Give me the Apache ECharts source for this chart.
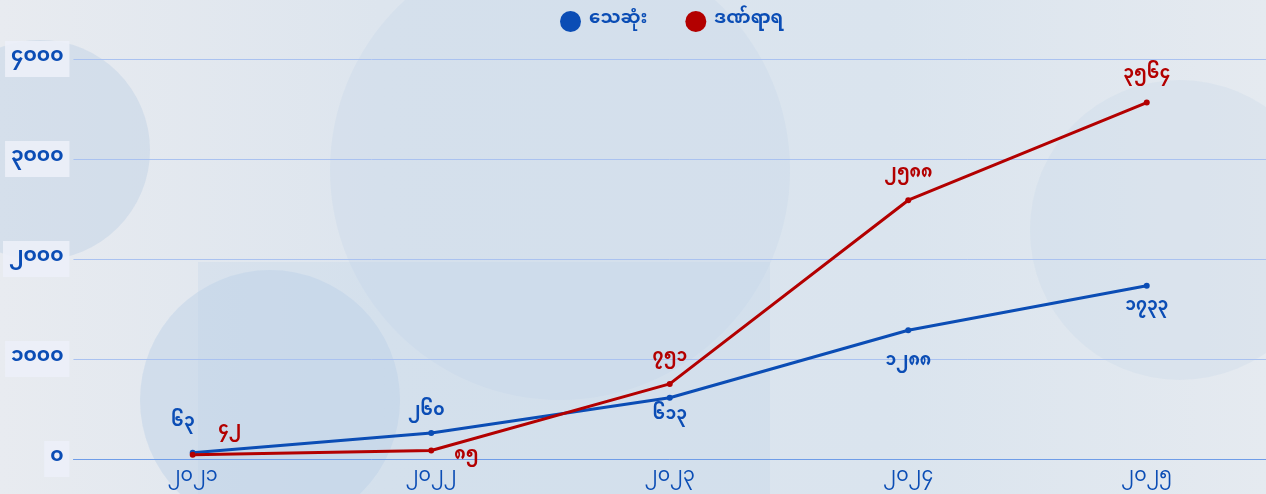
<!DOCTYPE html>
<html>
<head>
<meta charset="utf-8">
<script src="https://cdn.jsdelivr.net/npm/echarts@6/dist/echarts.min.js"></script>
<style>
html,body{margin:0;padding:0;}
#chart{width:1266px;height:494px;}
</style>
</head>
<body>
<div id="chart"></div>
<script>
var years = ['2021', '2022', '2023', '2024', '2025'];
var deaths = [63, 260, 613, 1288, 1733];
var injured = [42, 85, 751, 2588, 3564];
var yTicks = [0, 1000, 2000, 3000, 4000];

// label placement per point: [position, dx, dy]
var deathLabelPos = [['top', -10, -12], ['top', -5, -3], ['bottom', 0, 3], ['bottom', 0, 16], ['bottom', 0, 6]];
var injuredLabelPos = [['top', 37, -6], ['right', 15, 7], ['top', 0, -8], ['top', 0, -9], ['top', 0, -10]];

var myDigits = ['၀','၁','၂','၃','၄','၅','၆','၇','၈','၉'];
function toMy(v) {
    return String(v).replace(/[0-9]/g, function (d) { return myDigits[+d]; });
}

var FONT = "'Noto Sans Myanmar', 'Padauk', 'Myanmar Text', 'Noto Sans', sans-serif";
var BLUE = '#0b4db5';
var RED = '#b30000';

function buildData(vals, pos, color) {
    return vals.map(function (v, i) {
        return {
            value: v,
            label: {
                position: pos[i][0],
                offset: [pos[i][1], pos[i][2]],
                color: color
            }
        };
    });
}

var chart = echarts.init(document.getElementById('chart'));

var option = {
    backgroundColor: new echarts.graphic.LinearGradient(0, 0, 1, 0, [
        {offset: 0, color: '#e8ebf0'},
        {offset: 0.3, color: '#dde5ee'},
        {offset: 0.7, color: '#dae4ee'},
        {offset: 1, color: '#e5eaf0'}
    ]),
    graphic: [
        {type: 'circle', shape: {cx: 40, cy: 150, r: 110}, style: {fill: 'rgba(185,205,228,0.4)'}, silent: true, z: -10},
        {type: 'circle', shape: {cx: 270, cy: 400, r: 130}, style: {fill: 'rgba(175,200,228,0.35)'}, silent: true, z: -10},
        {type: 'circle', shape: {cx: 560, cy: 170, r: 230}, style: {fill: 'rgba(195,212,232,0.3)'}, silent: true, z: -10},
        {type: 'circle', shape: {cx: 1180, cy: 230, r: 150}, style: {fill: 'rgba(200,215,232,0.3)'}, silent: true, z: -10},
        {type: 'rect', shape: {x: 198, y: 262, width: 572, height: 232}, style: {fill: 'rgba(190,212,235,0.28)'}, silent: true, z: -10}
    ],
    legend: {
        top: 6,
        left: 555,
        itemGap: 38,
        icon: 'circle',
        itemWidth: 21,
        itemHeight: 21,
        textStyle: {
            color: BLUE,
            fontSize: 18,
            fontWeight: 'bold',
            fontFamily: FONT,
            padding: [0, 0, 0, 3]
        },
        data: ['သေဆုံး', 'ဒဏ်ရာရ']
    },
    grid: {
        left: 72,
        right: 0,
        top: 59,
        bottom: 35
    },
    xAxis: {
        type: 'category',
        data: years,
        axisLine: {lineStyle: {color: '#6f9de8', width: 1, opacity: 1}},
        axisTick: {show: false},
        axisLabel: {
            color: BLUE,
            fontSize: 19,
            fontFamily: FONT,
            margin: 10,
            formatter: toMy
        }
    },
    yAxis: {
        type: 'value',
        min: 0,
        max: yTicks[yTicks.length - 1],
        interval: 1000,
        axisLine: {show: false},
        axisTick: {show: false},
        splitLine: {lineStyle: {color: '#aac2f0', width: 1, opacity: 1}},
        axisLabel: {
            color: BLUE,
            fontSize: 20,
            fontWeight: 'bold',
            fontFamily: FONT,
            margin: 4,
            backgroundColor: 'rgba(236,239,248,0.9)',
            padding: [8, 6, 8, 6],
            formatter: toMy
        }
    },
    series: [
        {
            name: 'သေဆုံး',
            type: 'line',
            color: BLUE,
            symbol: 'circle',
            symbolSize: 6,
            lineStyle: {width: 3, color: BLUE},
            label: {
                show: true,
                fontSize: 17,
                fontWeight: 'bold',
                fontFamily: FONT,
                formatter: function (p) { return toMy(p.value); }
            },
            data: buildData(deaths, deathLabelPos, BLUE)
        },
        {
            name: 'ဒဏ်ရာရ',
            type: 'line',
            color: RED,
            symbol: 'circle',
            symbolSize: 6,
            lineStyle: {width: 3, color: RED},
            label: {
                show: true,
                fontSize: 17,
                fontWeight: 'bold',
                fontFamily: FONT,
                formatter: function (p) { return toMy(p.value); }
            },
            data: buildData(injured, injuredLabelPos, RED)
        }
    ]
};

chart.setOption(option);

window.addEventListener('resize', function () {
    chart.resize();
});
</script>
</body>
</html>
